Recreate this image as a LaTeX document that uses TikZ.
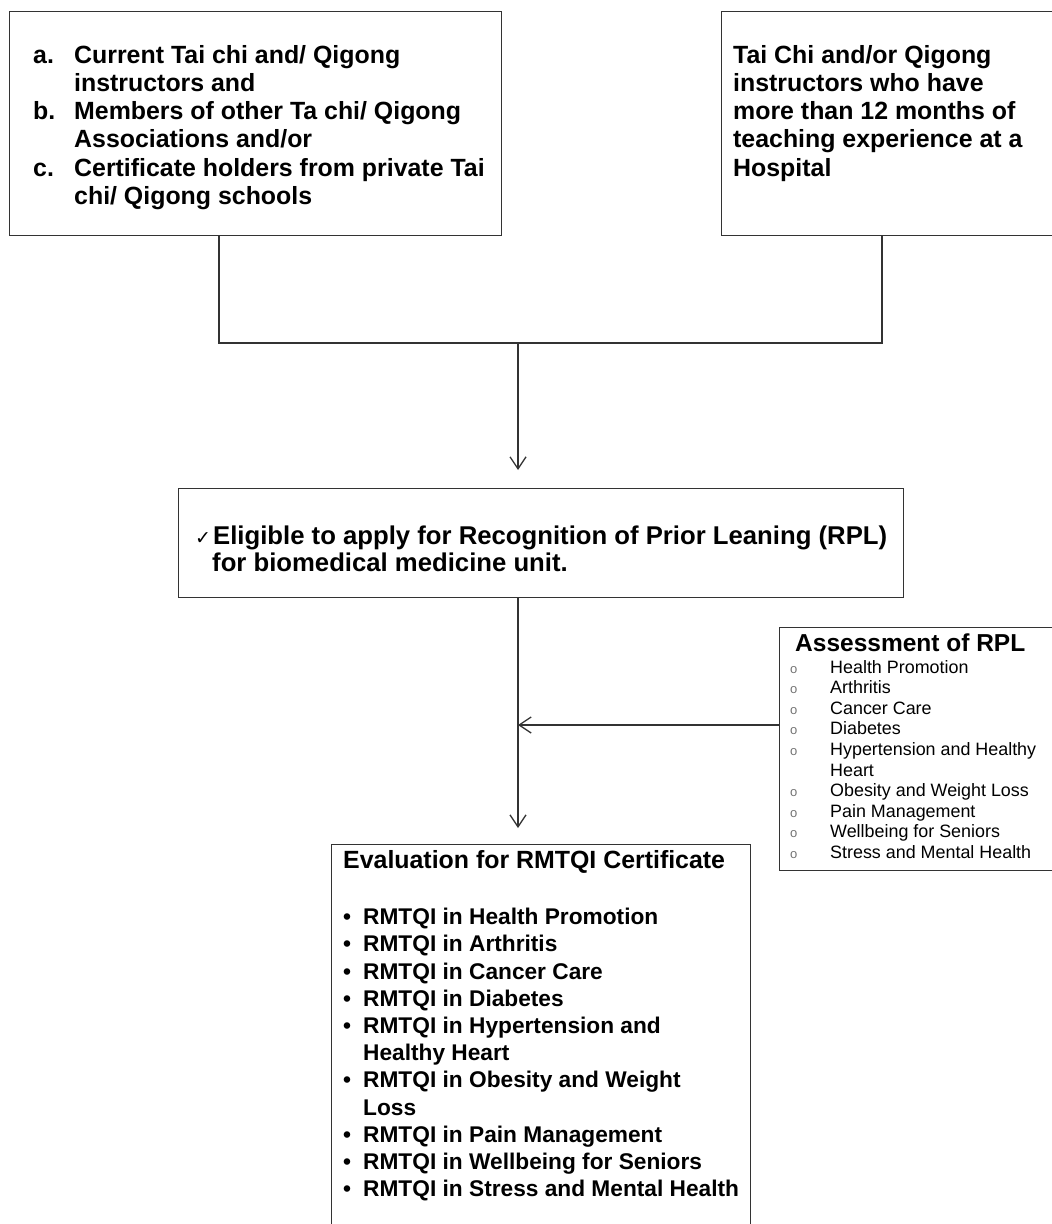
\documentclass[tikz,border=0pt]{standalone}
\usepackage{fontspec}
\setmainfont{Liberation Sans}
\newfontfamily\symfont{DejaVu Sans}
\usetikzlibrary{arrows.meta,positioning}

\newcommand{\ritem}[1]{\makebox[40pt][l]{\textcolor{black!55}{\fontsize{13}{13}\selectfont o}}#1}
\newcommand{\eitem}[1]{\makebox[20pt][l]{\textbullet}#1}

\tikzset{
    box/.style={draw=black!80, line width=1.3pt, rectangle, anchor=north west, inner sep=0pt},
    txt/.style={anchor=north west, inner sep=0pt, align=left, font=\fontsize{24.9}{28.2}\selectfont\bfseries},
    link/.style={draw=black!80, line width=1.3pt},
    arr/.style={link, -{Straight Barb[length=12pt,width=16pt]}},
}

\begin{document}
\begin{tikzpicture}[x=1pt, y=-1pt]
        \useasboundingbox (0,0) rectangle (1052,1224);
        \clip (0,0) rectangle (1052,1224);

        % boxes
        \node[box, minimum width=492pt, minimum height=224pt] (A) at (9,11) {};
        \node[box, minimum width=360pt, minimum height=224pt] (B) at (721,11) {};
        \node[box, minimum width=725pt, minimum height=109pt] (C) at (178,488) {};
        \node[box, minimum width=300pt, minimum height=243pt] (D) at (779,627) {};
        \node[box, minimum width=419pt, minimum height=420pt] (E) at (331,844) {};

        % texts
        \node[txt] (Atext) at (33,45) {\makebox[41pt][l]{a.}Current Tai chi and/ Qigong\\
            \hspace*{41pt}instructors and\\
            \makebox[41pt][l]{b.}Members of other Ta chi/ Qigong\\
            \hspace*{41pt}Associations and/or\\
            \makebox[41pt][l]{c.}Certificate holders from private Tai\\
            \hspace*{41pt}chi/ Qigong schools};
        \node[txt] (Btext) at (733,45) {Tai Chi and/or Qigong\\
            instructors who have\\
            more than 12 months of\\
            teaching experience at a\\
            Hospital};
        \node[txt, font=\fontsize{25.7}{27}\selectfont\bfseries] (Ctext) at (195,526)
            {\makebox[18pt][l]{\mdseries\symfont\fontsize{19}{19}\selectfont ✓}Eligible to apply for Recognition of Prior Leaning (RPL)\\
            \hspace*{17pt}for biomedical medicine unit.};
        \node[txt, font=\fontsize{24.5}{24.5}\selectfont\bfseries] (Dtitle) at (795,634) {Assessment of RPL};
        \node[txt, font=\fontsize{17.9}{20.6}\selectfont] (Ditems) at (790,660) {\ritem{Health Promotion}\\
            \ritem{Arthritis}\\
            \ritem{Cancer Care}\\
            \ritem{Diabetes}\\
            \ritem{Hypertension and Healthy}\\
            \hspace*{40pt}Heart\\
            \ritem{Obesity and Weight Loss}\\
            \ritem{Pain Management}\\
            \ritem{Wellbeing for Seniors}\\
            \ritem{Stress and Mental Health}};
        \node[txt] (Etitle) at (343,850) {Evaluation for RMTQI Certificate};
        \node[txt, font=\fontsize{22.7}{27.2}\selectfont\bfseries] (Eitems) at (343,908) {\eitem{RMTQI in Health Promotion}\\
            \eitem{RMTQI in Arthritis}\\
            \eitem{RMTQI in Cancer Care}\\
            \eitem{RMTQI in Diabetes}\\
            \eitem{RMTQI in Hypertension and}\\
            \hspace*{20pt}Healthy Heart\\
            \eitem{RMTQI in Obesity and Weight}\\
            \hspace*{20pt}Loss\\
            \eitem{RMTQI in Pain Management}\\
            \eitem{RMTQI in Wellbeing for Seniors}\\
            \eitem{RMTQI in Stress and Mental Health}};

        % connectors
        \coordinate (aout) at (219,235);
        \coordinate (bout) at (882,235);
        \coordinate (join) at (518,343);
        \coordinate (dout) at (779,725);

        \draw[link] (aout) |- (join) -| (bout);
        \draw[arr] (join) -- ([yshift=18pt]join |- C.north);
        \draw[arr] (C.south -| join) -- ([yshift=16pt]E.north -| join);
        \draw[arr] (dout) -- (dout -| join);
\end{tikzpicture}
\end{document}
